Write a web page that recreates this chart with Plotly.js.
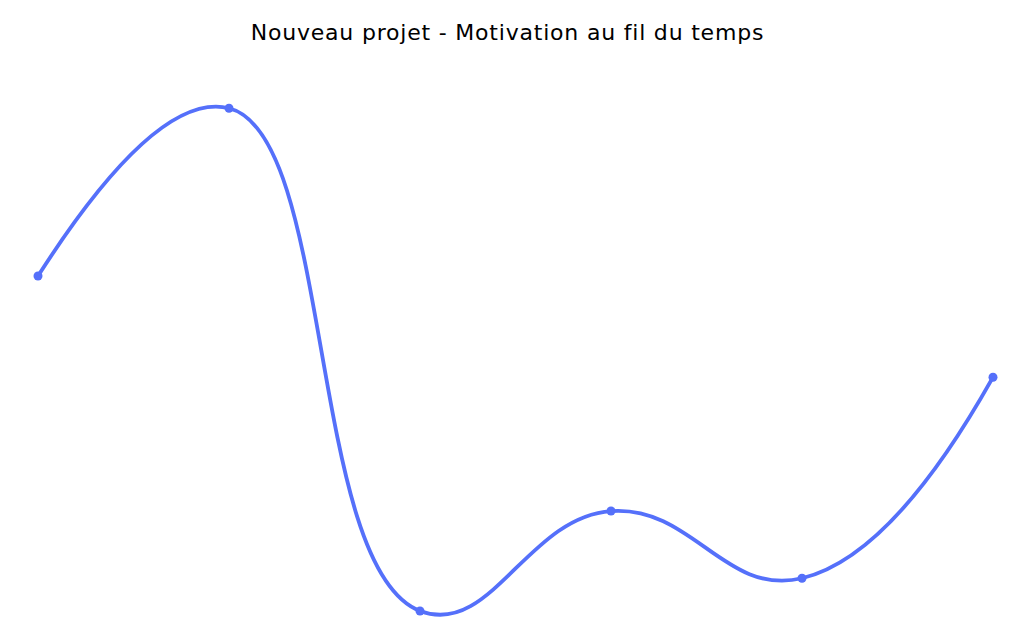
<!DOCTYPE html>
<html>
<head>
<meta charset="utf-8">
<script src="https://cdn.plot.ly/plotly-3.0.1.min.js"></script>
<style>
  html, body { margin: 0; padding: 0; background: #fff; }
  #chart { width: 1021px; height: 641px; }
  /* the original title face is much wider than anything installed */
  #chart .gtitle { letter-spacing: 0.8px; }
</style>
</head>
<body>
<div id="chart"></div>
<script>
// six time steps, motivation level (0-10 scale)
const steps = [0, 1, 2, 3, 4, 5];
const motivation = [6.33, 9.0, 1.0, 2.59, 1.52, 4.72];

const lineColor = '#5570fa';

const trace = {
  x: steps,
  y: motivation,
  type: 'scatter',
  mode: 'lines+markers',
  line: { color: lineColor, width: 3.8, shape: 'spline', smoothing: 1.3 },
  marker: { color: lineColor, size: 9 },
  cliponaxis: false,
  hoverinfo: 'skip'
};

Plotly.newPlot('chart', [trace], {
  width: 1021,
  height: 641,
  paper_bgcolor: '#fff',
  plot_bgcolor: '#fff',
  showlegend: false,
  margin: { t: 80, l: 38, r: 28, b: 20 },
  title: {
    text: 'Nouveau projet - Motivation au fil du temps',
    x: 0.497,
    xanchor: 'center',
    y: 0.949,
    yanchor: 'middle',
    font: { family: 'DejaVu Sans, sans-serif', size: 22, color: '#000' }
  },
  xaxis: {
    range: [0, 5],
    visible: false,
    fixedrange: true
  },
  yaxis: {
    range: [0.84, 9.45],
    visible: false,
    fixedrange: true
  }
}, { displayModeBar: false, staticPlot: true });
</script>
</body>
</html>
